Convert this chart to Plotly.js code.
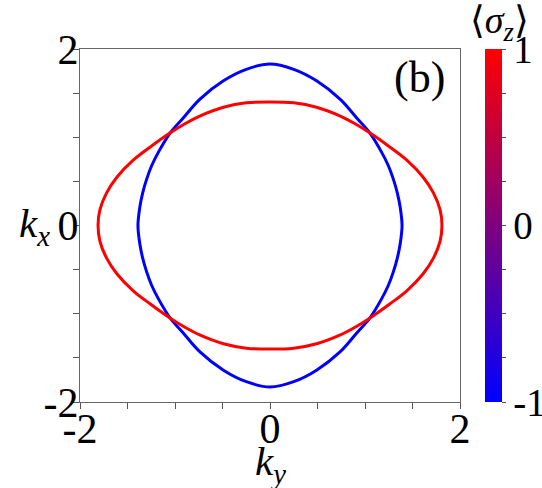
<!DOCTYPE html>
<html>
<head>
<meta charset="utf-8">
<script src="https://cdn.plot.ly/plotly-3.0.1.min.js"></script>
<style>
  html, body { margin: 0; padding: 0; background: #fff; }
  #fig { width: 542px; height: 488px; }
</style>
</head>
<body>
<div id="fig"></div>
<script>
// Fermi contours, (ky, kx) going round each loop
var redKy = [1.81,1.79,1.72,1.61,1.44,1.26,1.05,0.90,0.74,0.49,0.25,0.00,
             -0.25,-0.49,-0.74,-0.90,-1.05,-1.26,-1.44,-1.61,-1.72,-1.79,-1.81,
             -1.79,-1.72,-1.61,-1.44,-1.26,-1.05,-0.90,-0.74,-0.49,-0.25,0.00,
             0.25,0.49,0.74,0.90,1.05,1.26,1.44,1.61,1.72,1.79,1.81];
var redKx = [0.00,0.18,0.37,0.55,0.74,0.89,1.05,1.15,1.24,1.34,1.39,1.40,
             1.39,1.34,1.24,1.15,1.05,0.89,0.74,0.55,0.37,0.18,0.00,
             -0.18,-0.37,-0.55,-0.74,-0.89,-1.05,-1.15,-1.24,-1.34,-1.39,-1.40,
             -1.39,-1.34,-1.24,-1.15,-1.05,-0.89,-0.74,-0.55,-0.37,-0.18,0.00];

var blueKy = [1.39,1.37,1.34,1.30,1.245,1.17,1.05,0.92,0.74,0.49,0.25,0.00,
              -0.25,-0.49,-0.74,-0.92,-1.05,-1.17,-1.245,-1.30,-1.34,-1.37,-1.39,
              -1.37,-1.34,-1.30,-1.245,-1.17,-1.05,-0.92,-0.74,-0.49,-0.25,0.00,
              0.25,0.49,0.74,0.92,1.05,1.17,1.245,1.30,1.34,1.37,1.39];
var blueKx = [0.00,0.21,0.37,0.52,0.68,0.84,1.05,1.21,1.43,1.64,1.77,1.83,
              1.77,1.64,1.43,1.21,1.05,0.84,0.68,0.52,0.37,0.21,0.00,
              -0.21,-0.37,-0.52,-0.68,-0.84,-1.05,-1.21,-1.43,-1.64,-1.77,-1.83,
              -1.77,-1.64,-1.43,-1.21,-1.05,-0.84,-0.68,-0.52,-0.37,-0.21,0.00];

// spin polarisation of each band
var sigmaRed = 1;
var sigmaBlue = -1;

var axisTicks = [-2,-1.5,-1,-0.5,0,0.5,1,1.5,2];
var axisText  = ['-2','','','','0','','','','2'];
var cbTicks = [-1,-0.75,-0.5,-0.25,0,0.25,0.5,0.75,1];
var cbText  = ['-1','','','','0','','','','1'];

var serif = '"Liberation Serif", "DejaVu Serif", serif';
var scale = [[0,'rgb(0,0,255)'],[1,'rgb(255,0,0)']];

function band(kx, ky, s, bar) {
  return {
    x: ky, y: kx, type: 'scatter', mode: 'lines+markers',
    line: {color: s > 0 ? 'rgb(255,0,0)' : 'rgb(0,0,255)', width: 3, shape: 'spline', smoothing: 1},
    marker: {size: 1, color: ky.map(function () { return s; }),
             colorscale: scale, cmin: -1, cmax: 1, showscale: bar,
             colorbar: {thickness: 17, len: 1, lenmode: 'fraction', x: 1.066, xanchor: 'left',
                        y: 0.5, yanchor: 'middle', outlinewidth: 0, ypad: 0, xpad: 0,
                        tickvals: cbTicks, ticktext: cbText, ticks: 'outside', ticklen: 4,
                        tickcolor: '#555', tickfont: {family: serif, size: 39, color: '#000'}}},
    hoverinfo: 'skip', showlegend: false
  };
}

var traces = [band(blueKx, blueKy, sigmaBlue, true), band(redKx, redKy, sigmaRed, false)];

function axis(standoff) {
  return {
    range: [-2, 2], tickvals: axisTicks, ticktext: axisText,
    ticks: 'outside', ticklen: 6, tickcolor: '#555', ticklabelstandoff: standoff,
    showline: true, mirror: true, linecolor: '#666', linewidth: 1,
    showgrid: false, zeroline: false,
    tickfont: {family: serif, size: 42, color: '#000'}
  };
}

var layout = {
  width: 542, height: 488,
  margin: {l: 80, r: 82, t: 49, b: 86, autoexpand: false},
  font: {family: serif, color: '#000'},
  paper_bgcolor: '#fff', plot_bgcolor: '#fff',
  xaxis: axis(-16),
  yaxis: axis(-14),
  annotations: [
    {text: '<i>k</i><sub><i>y</i></sub>', xref: 'paper', yref: 'paper', x: 0.5, y: -0.175,
     xanchor: 'center', yanchor: 'middle', showarrow: false, font: {family: serif, size: 41, color: '#000'}},
    {text: '<i>k</i><sub><i>x</i></sub>', xref: 'paper', yref: 'paper', x: -0.075, y: 0.5,
     xanchor: 'right', yanchor: 'middle', showarrow: false, font: {family: serif, size: 41, color: '#000'}},
    {text: '(b)', xref: 'paper', yref: 'paper', x: 0.965, y: 0.995,
     xanchor: 'right', yanchor: 'top', showarrow: false, font: {family: serif, size: 44, color: '#000'}},
    {text: '⟨<i>σ</i><sub><i>z</i></sub>⟩', xref: 'paper', yref: 'paper', x: 1.105, y: 1.0,
     xanchor: 'center', yanchor: 'bottom', showarrow: false, font: {family: serif, size: 38, color: '#000'}}
  ]
};

Plotly.newPlot('fig', traces, layout, {displayModeBar: false, staticPlot: true});
</script>
</body>
</html>
